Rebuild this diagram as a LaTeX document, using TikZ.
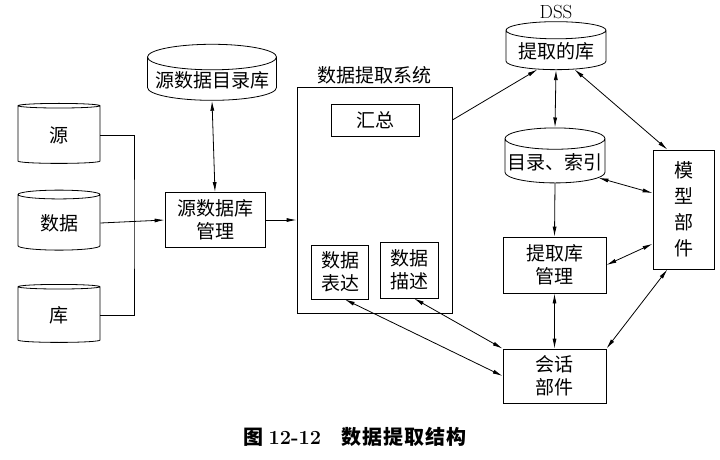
\documentclass[tikz,border=0pt]{standalone}
\usepackage{fontspec}
\newfontfamily\cjk{Noto Sans CJK SC}
\usetikzlibrary{shapes.geometric,arrows.meta}
\begin{document}
\begin{tikzpicture}
[x=1pt,y=-1pt,
every node/.style={font=\cjk\fontsize{19pt}{23pt}\selectfont,align=center,inner sep=1pt},
box/.style={draw,thick,minimum width=#1},
db/.style={draw,thick,cylinder,shape border rotate=90,aspect=0.22,minimum width=#1},
link/.style={thick,-{Latex[length=10pt,width=4pt]}},
twoway/.style={thick,{Latex[length=10pt,width=4pt]}-{Latex[length=10pt,width=4pt]}}
]
\useasboundingbox (0,0) rectangle (720,459);
% source databases
\node[db=82pt,minimum height=60pt] (yuan) at (59,135) {源};
\node[db=82pt,minimum height=60pt] (shuju) at (59,223) {数据};
\node[db=82pt,minimum height=58pt] (ku) at (59,315) {库};
\node[db=129pt,minimum height=50pt] (mulu) at (212,80) {源数据目录库};
\node[box=100pt,minimum height=55pt] (ydgl) at (215,220) {源数据库\\管理};
\coordinate (merge) at (134,223);
% extraction system
\node[box=155pt,minimum height=226pt] (sys) at (374.5,200) {};
\node[anchor=south,inner sep=2pt] (systitle) at (sys.north) {数据提取系统};
\node[box=88pt,minimum height=32pt] (huizong) at (375,120) {汇总};
\node[box=57pt,minimum height=54pt] (biaoda) at (340,272) {数据\\表达};
\node[box=58pt,minimum height=56pt] (miaoshu) at (409,270) {数据\\描述};
% DSS side
\node[db=100pt,minimum height=48pt] (tiku) at (556,51) {提取的库};
\node[font=\fontsize{19pt}{22pt}\selectfont,anchor=south,inner sep=2pt] (dss) at (tiku.north) {DSS};
\node[db=100pt,minimum height=55pt] (suoyin) at (555,162) {目录、索引};
\node[box=103pt,minimum height=56pt] (tkgl) at (554.5,265) {提取库\\管理};
\node[box=103pt,minimum height=54pt] (huihua) at (554.5,376) {会话\\部件};
\node[box=61pt,minimum height=119pt,font=\cjk\fontsize{19pt}{26pt}\selectfont] (moxing) at (683.5,209.5) {模\\型\\部\\件};
% caption
\node[font=\cjk\bfseries\fontsize{20pt}{24pt}\selectfont] (caption) at (355,437) {图 {\rmfamily 12-12}\quad 数\kern1pt 据\kern1pt 提\kern1pt 取\kern1pt 结\kern1pt 构};
% connectors
\draw[thick] (yuan.east) -| (merge) |- (ku.east);
\draw[link] (shuju.east) -- (ydgl.west);
\draw[twoway] (mulu.south) -- (ydgl.north);
\draw[link] (ydgl.east) -- (ydgl.east -| sys.west);
\draw[link] (huizong -| sys.east) -- (tiku.south west);
\draw[twoway] (tiku.south) -- (suoyin.north);
\draw[link] (suoyin.south) -- (tkgl.north);
\draw[twoway] (tkgl.south) -- (huihua.north);
\draw[twoway] (tiku.south east) -- (moxing.105);
\draw[twoway] (suoyin.-20) -- (moxing.152);
\draw[twoway] (tkgl.east) -- (moxing.228);
\draw[twoway] (huihua.north east) -- (moxing.255);
\draw[twoway] (biaoda.-80) -- (huihua.west);
\draw[twoway] (miaoshu.-80) -- (huihua.north west);
\end{tikzpicture}
\end{document}
